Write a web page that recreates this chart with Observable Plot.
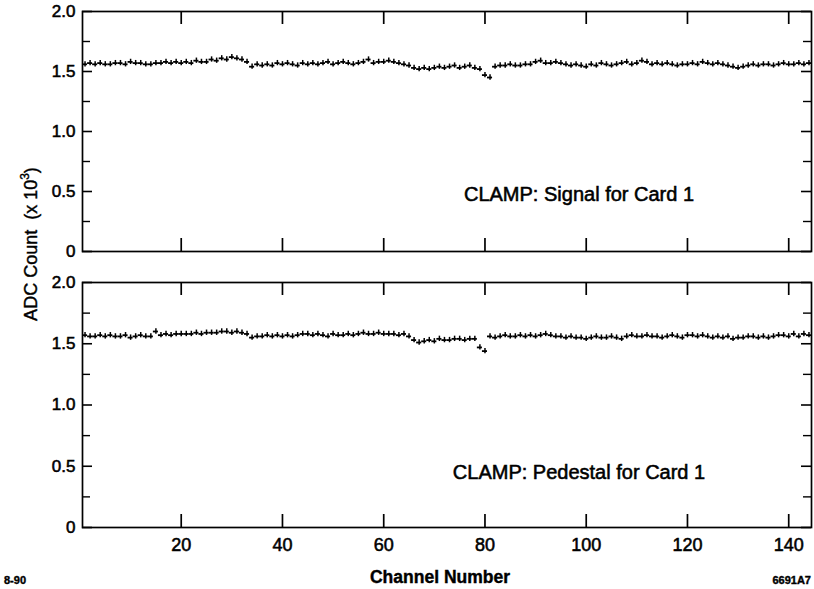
<!DOCTYPE html>
<html><head><meta charset="utf-8">
<script src="https://cdn.jsdelivr.net/npm/d3@7"></script>
<script src="https://cdn.jsdelivr.net/npm/@observablehq/plot@0.6"></script>
<style>
body{margin:0;background:#fff;}
#wrap{position:relative;width:814px;height:589px;font-family:"Liberation Sans",Arial,Helvetica,sans-serif;color:#000;}
#wrap svg{position:absolute;left:0;top:0;}
#wrap svg text{stroke:#000;stroke-width:0.55px;}
.lbl{position:absolute;white-space:nowrap;line-height:1;-webkit-text-stroke:0.4px #000;}
</style></head><body><div id="wrap"></div>
<script>
// Channel values (x 10^3 ADC counts), channels 1..144
const signal = [
1.56,1.57,1.56,1.57,1.56,1.56,1.57,1.57,1.56,1.58,
1.57,1.57,1.56,1.56,1.57,1.57,1.58,1.57,1.58,1.57,
1.58,1.57,1.59,1.58,1.58,1.60,1.59,1.61,1.60,1.62,
1.61,1.60,1.58,1.54,1.56,1.55,1.56,1.55,1.57,1.56,
1.57,1.56,1.55,1.57,1.56,1.57,1.56,1.57,1.58,1.56,
1.57,1.58,1.57,1.56,1.57,1.58,1.60,1.57,1.58,1.58,
1.59,1.58,1.57,1.56,1.55,1.53,1.52,1.53,1.52,1.53,
1.54,1.53,1.54,1.55,1.53,1.54,1.55,1.53,1.52,1.47,
1.45,1.54,1.55,1.55,1.56,1.55,1.55,1.56,1.56,1.58,
1.59,1.57,1.57,1.58,1.57,1.56,1.55,1.56,1.55,1.54,
1.56,1.55,1.57,1.56,1.55,1.56,1.57,1.58,1.56,1.57,
1.59,1.58,1.56,1.57,1.56,1.57,1.56,1.55,1.56,1.56,
1.57,1.56,1.58,1.57,1.56,1.57,1.56,1.55,1.54,1.53,
1.54,1.55,1.56,1.55,1.56,1.56,1.55,1.56,1.57,1.56,
1.56,1.57,1.56,1.57];
const pedestal = [
1.57,1.56,1.56,1.57,1.56,1.57,1.56,1.56,1.57,1.55,
1.56,1.57,1.56,1.56,1.60,1.57,1.58,1.57,1.58,1.58,
1.58,1.58,1.59,1.58,1.59,1.59,1.59,1.60,1.60,1.59,
1.60,1.59,1.58,1.55,1.56,1.56,1.57,1.56,1.57,1.56,
1.57,1.56,1.57,1.58,1.58,1.57,1.58,1.57,1.56,1.58,
1.57,1.57,1.58,1.57,1.58,1.59,1.58,1.58,1.59,1.58,
1.58,1.58,1.57,1.58,1.56,1.53,1.51,1.52,1.53,1.52,
1.54,1.53,1.53,1.54,1.54,1.53,1.54,1.54,1.47,1.44,
1.56,1.55,1.56,1.57,1.56,1.56,1.57,1.56,1.57,1.56,
1.57,1.58,1.57,1.56,1.56,1.55,1.56,1.55,1.55,1.54,
1.55,1.56,1.55,1.55,1.56,1.55,1.54,1.56,1.57,1.56,
1.56,1.57,1.56,1.56,1.55,1.56,1.57,1.56,1.55,1.57,
1.57,1.56,1.57,1.56,1.55,1.56,1.55,1.56,1.54,1.55,
1.55,1.56,1.56,1.55,1.56,1.55,1.56,1.57,1.57,1.56,
1.58,1.56,1.58,1.57];
const panelTitles = ["CLAMP: Signal for Card 1","CLAMP: Pedestal for Card 1"];
const yTicks = [0,0.5,1,1.5,2];
const yTickLabels = ["0","0.5","1.0","1.5","2.0"];
const yMinor = [0.25,0.75,1.25,1.75];
const xTicks = [20,40,60,80,100,120,140];
const errHalf = 0.022;

const W=814,H=589,mL=82,mR=3;
const innerW=W-mL-mR;
const font='"Liberation Sans",Arial,Helvetica,sans-serif';

function panel(values,title,mT,mB,showX,titleDy,titleSpacing){
  const rows=values.map((v,i)=>({ch:i+1,v}));
  const innerH=H-mT-mB;
  const marks=[
    Plot.frame({stroke:"#000",strokeWidth:1.7}),
    Plot.tickY(yTicks,{y:d=>d,insetRight:innerW-10,stroke:"#000",strokeWidth:1.6}),
    Plot.tickY(yTicks,{y:d=>d,insetLeft:innerW-10,stroke:"#000",strokeWidth:1.6}),
    Plot.tickY(yMinor,{y:d=>d,insetRight:innerW-8,stroke:"#000",strokeWidth:1.4}),
    Plot.tickY(yMinor,{y:d=>d,insetLeft:innerW-8,stroke:"#000",strokeWidth:1.4}),
    Plot.tickX(xTicks,{x:d=>d,insetBottom:innerH-13,stroke:"#000",strokeWidth:1.7}),
    Plot.tickX(xTicks,{x:d=>d,insetTop:innerH-13,stroke:"#000",strokeWidth:1.7}),
    Plot.axisY(yTicks,{tickSize:0,tickPadding:7,fontSize:17,tickFormat:(d,i)=>yTickLabels[i],label:null}),
    Plot.ruleY(rows,{y:"v",x1:d=>d.ch-0.5,x2:d=>d.ch+0.5,stroke:"#000",strokeWidth:1.8}),
    Plot.ruleX(rows,{x:"ch",y1:d=>d.v-errHalf,y2:d=>d.v+errHalf,stroke:"#000",strokeWidth:1.5}),
    Plot.text([title],{text:d=>d,frameAnchor:"bottom",dx:132,dy:titleDy,fontSize:20,fill:"#000",style:{letterSpacing:titleSpacing}})
  ];
  if(showX) marks.push(Plot.axisX(xTicks,{tickSize:0,tickPadding:11,fontSize:18,label:null}));
  return Plot.plot({
    width:W,height:H,marginLeft:mL,marginRight:mR,marginTop:mT,marginBottom:mB,
    style:{fontFamily:font,background:"transparent",color:"#000",overflow:"visible"},
    x:{domain:[0.5,144.5],axis:null},
    y:{domain:[0,2],axis:null},
    marks
  });
}
const wrap=document.getElementById("wrap");
wrap.appendChild(panel(signal,panelTitles[0],11,H-251,false,-51,"0.7px"));
wrap.appendChild(panel(pedestal,panelTitles[1],282,H-527,true,-49,"1.3px"));

function addLabel(html,css){
  const d=document.createElement("div");
  d.className="lbl";d.innerHTML=html;
  Object.assign(d.style,css);
  wrap.appendChild(d);
  return d;
}
addLabel("Channel Number",{left:"440px",top:"578px",fontSize:"17.5px",fontWeight:"bold",transform:"translate(-50%,-50%)"});
addLabel("8-90",{left:"4px",top:"580px",fontSize:"11px",fontWeight:"bold",transform:"translate(0,-50%)"});
addLabel("6691A7",{left:"811px",top:"580px",fontSize:"11px",fontWeight:"bold",transform:"translate(-100%,-50%)"});
addLabel("ADC Count&nbsp;&nbsp;(x 10<sup style='font-size:12px;vertical-align:8px'>3</sup>)",
  {left:"29px",top:"244px",fontSize:"18px",transform:"translate(-50%,-50%) rotate(-90deg)"});
</script></body></html>
